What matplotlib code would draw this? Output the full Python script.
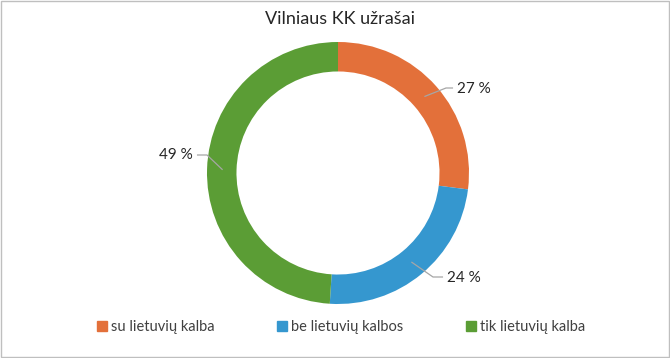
import numpy as np
import matplotlib.pyplot as plt
from matplotlib.patches import Rectangle

plt.rcParams['font.family'] = ['Lato', 'DejaVu Sans']

labels = ['su lietuvių kalba', 'be lietuvių kalbos', 'tik lietuvių kalba']
values = [27, 24, 49]
colors = ['#E3703A', '#3597CF', '#5B9D35']
title = 'Vilniaus KK užrašai'

W, H = 670, 358
cx, cy, R = 338, 173, 131   # pixel centre and outer radius

fig = plt.figure(figsize=(W / 100, H / 100), dpi=100)
ax = fig.add_axes([0, 0, 1, 1])

def px(x, y):
    return (x - cx) / R, (cy - y) / R

wedges, _ = ax.pie(values, colors=colors, startangle=90, counterclock=False,
                   radius=1, wedgeprops=dict(width=0.225, edgecolor='none'))
ax.set_xlim(-cx / R, (W - cx) / R)
ax.set_ylim(-(H - cy) / R, cy / R)
ax.axis('off')

# label positions (pixels): elbow, text anchor
lab_pos = [((446, 88), (457, 89), 'left'),
           ((433, 277), (447, 278), 'left'),
           ((207, 155), (193, 155), 'right')]
cum = np.cumsum([0] + values)
for i, v in enumerate(values):
    mid = 90 - (cum[i] + v / 2) / 100 * 360
    r = 0.885
    ax0 = r * np.cos(np.radians(mid))
    ay0 = r * np.sin(np.radians(mid))
    (ex, ey), (tx, ty), ha = lab_pos[i]
    e = px(ex, ey)
    t = px(tx, ty)
    endx = t[0] - 0.035 if ha == 'left' else t[0] + 0.035
    ax.plot([ax0, e[0], endx], [ay0, e[1], e[1]], color='#A6A6A6', lw=0.9)
    ax.text(t[0], t[1], f'{v} %', ha=ha, va='center', fontsize=11, color='#262626')

tx, ty = px(340, 19)
ax.text(tx, ty, title, ha='center', va='center', fontsize=13, color='#262626')

handles = [Rectangle((0, 0), 1, 1, color=c) for c in colors]
fig.legend(handles, labels, loc='center', bbox_to_anchor=(341 / W, 1 - 327 / H), ncol=3,
           frameon=False, fontsize=10.5, handlelength=0.7, handleheight=0.7,
           handletextpad=0.25, columnspacing=4.3, labelcolor='#404040')

fig.add_artist(Rectangle((0.001, 0.002), 0.997, 0.995, transform=fig.transFigure,
                         fill=False, edgecolor='#BFBFBF', lw=1))

fig.savefig('out.png', dpi=100)
